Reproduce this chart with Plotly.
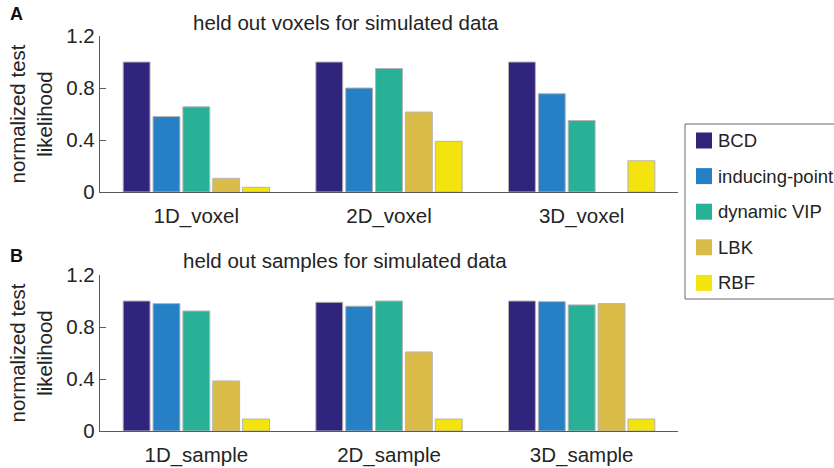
import plotly.graph_objects as go
from plotly.subplots import make_subplots

# Methods and their bar colours
methods = ["BCD", "inducing-point", "dynamic VIP", "LBK", "RBF"]
colors = ["#31247c", "#2580c5", "#29b197", "#dcbc48", "#f3e30f"]

# Panel A: held-out voxels
voxel_cats = ["1D_voxel", "2D_voxel", "3D_voxel"]
voxel_bcd = [1.0, 1.0, 1.0]
voxel_inducing = [0.58, 0.80, 0.756]
voxel_vip = [0.655, 0.95, 0.55]
voxel_lbk = [0.105, 0.615, None]
voxel_rbf = [0.036, 0.39, 0.24]

# Panel B: held-out samples
sample_cats = ["1D_sample", "2D_sample", "3D_sample"]
sample_bcd = [1.0, 0.99, 1.0]
sample_inducing = [0.98, 0.96, 0.995]
sample_vip = [0.923, 1.0, 0.97]
sample_lbk = [0.385, 0.608, 0.98]
sample_rbf = [0.092, 0.092, 0.092]

y_ticks = [0, 0.4, 0.8, 1.2]
y_tick_text = ["0", "0.4", "0.8", "1.2"]

W, H = 834, 468
FONT = "Liberation Sans, Arial, Helvetica, sans-serif"
TXT = "#242424"
AXIS = "#5a5a5a"


def px_x(x):
    return x / W


def px_y(y):
    return 1 - y / H


fig = make_subplots(rows=2, cols=1)

voxel_series = [voxel_bcd, voxel_inducing, voxel_vip, voxel_lbk, voxel_rbf]
sample_series = [sample_bcd, sample_inducing, sample_vip, sample_lbk, sample_rbf]

for name, col, vals in zip(methods, colors, voxel_series):
    fig.add_trace(go.Bar(x=voxel_cats, y=vals, name=name, marker_color=col,
                         marker_line=dict(color="#b4b4b4", width=1),
                         showlegend=False), row=1, col=1)
for name, col, vals in zip(methods, colors, sample_series):
    fig.add_trace(go.Bar(x=sample_cats, y=vals, name=name, marker_color=col,
                         marker_line=dict(color="#b4b4b4", width=1),
                         showlegend=False), row=2, col=1)

xdom = [px_x(100), px_x(678)]
axis_common = dict(showline=True, linecolor=AXIS, linewidth=1.3, showgrid=False,
                   zeroline=False, mirror=False, automargin=False,
                   tickfont=dict(family=FONT, size=20.5, color=TXT))

fig.update_xaxes(domain=xdom, ticks="", range=[-0.5, 2.5],
                 ticklabelstandoff=5, **axis_common)
fig.update_yaxes(range=[0, 1.2], tickvals=y_ticks, ticktext=y_tick_text,
                 ticks="inside", ticklen=6, tickcolor=AXIS, tickwidth=1.3,
                 title=dict(text="normalized test<br>likelihood",
                            font=dict(family=FONT, size=20.5, color=TXT),
                            standoff=8),
                 **axis_common)
fig.update_yaxes(domain=[px_y(192), px_y(36)], row=1, col=1)
fig.update_yaxes(domain=[px_y(431), px_y(275)], row=2, col=1)

annotations = [
    dict(text="held out voxels for simulated data", x=px_x(346), y=px_y(22)),
    dict(text="held out samples for simulated data", x=px_x(345), y=px_y(260)),
]
annots = []
for a in annotations:
    annots.append(dict(text=a["text"], x=a["x"], y=a["y"], xref="paper", yref="paper",
                       xanchor="center", yanchor="middle", showarrow=False,
                       font=dict(family=FONT, size=20.5, color=TXT)))
# panel letters
for letter, ly in [("A", 14), ("B", 256)]:
    annots.append(dict(text="<b>%s</b>" % letter, x=px_x(8), y=px_y(ly),
                       xref="paper", yref="paper", xanchor="left", yanchor="middle",
                       showarrow=False, font=dict(family=FONT, size=18, color="#111111")))

# legend: framed box with coloured swatches
shapes = [dict(type="rect", xref="paper", yref="paper",
               x0=px_x(685), x1=px_x(850), y0=px_y(299), y1=px_y(124),
               line=dict(color="#6a6a6a", width=1), fillcolor="white")]
for i, (name, col) in enumerate(zip(methods, colors)):
    cy = 140.5 + i * 35.6
    shapes.append(dict(type="rect", xref="paper", yref="paper",
                       x0=px_x(696), x1=px_x(712), y0=px_y(cy + 8), y1=px_y(cy - 8),
                       line=dict(width=0), fillcolor=col))
    annots.append(dict(text=name, x=px_x(716), y=px_y(cy), xref="paper", yref="paper",
                       xanchor="left", yanchor="middle", showarrow=False,
                       font=dict(family=FONT, size=18.5, color=TXT)))

fig.update_layout(
    template="none",
    width=W, height=H, margin=dict(l=0, r=0, t=0, b=0, autoexpand=False),
    paper_bgcolor="white", plot_bgcolor="white",
    barmode="group", bargap=0.225, bargroupgap=0.1,
    showlegend=False, annotations=annots, shapes=shapes,
)

fig.write_html("out.html")
